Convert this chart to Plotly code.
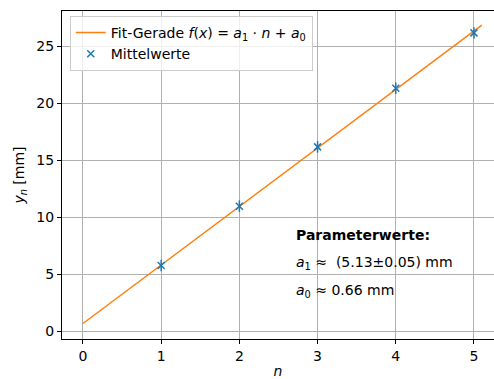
import plotly.graph_objects as go

n_vals = [1, 2, 3, 4, 5]
y_means = [5.75, 10.95, 16.15, 21.3, 26.15]
y_err = [0.5, 0.5, 0.5, 0.5, 0.5]
a1 = 5.13
a0 = 0.66
fit_x = [0, 5.1]
fit_y = [a0 + a1 * x for x in fit_x]
x_ticks = [0, 1, 2, 3, 4, 5]
y_ticks = [0, 5, 10, 15, 20, 25]

blue = "#1f77b4"
orange = "#ff7f0e"
font = "DejaVu Sans"
fs = 14

fig = go.Figure()
fig.add_trace(go.Scatter(
    x=fit_x, y=fit_y, mode="lines",
    line=dict(color=orange, width=1.5),
    name="Fit-Gerade <i>f</i>(<i>x</i>) = <i>a</i><sub>1</sub> · <i>n</i> + <i>a</i><sub>0</sub>",
))
fig.add_trace(go.Scatter(
    x=n_vals, y=y_means, mode="markers",
    marker=dict(symbol="x-thin", size=7, color=blue, line=dict(color=blue, width=1.5)),
    error_y=dict(type="data", array=y_err, color=blue, thickness=1.5, width=0),
    name="Mittelwerte",
))

axis_common = dict(
    showgrid=True, gridcolor="#b0b0b0", gridwidth=0.8,
    showline=True, linecolor="black", linewidth=1,
    ticks="outside", ticklen=4, tickcolor="black",
    zeroline=False,
    tickfont=dict(family=font, size=fs, color="black"),
)

fig.update_layout(
    width=494, height=379,
    margin=dict(l=62, r=0, t=11, b=40, autoexpand=False),
    paper_bgcolor="white", plot_bgcolor="white",
    font=dict(family=font, size=fs, color="black"),
    showlegend=True,
    legend=dict(
        x=0.018, y=0.985, xanchor="left", yanchor="top",
        bgcolor="rgba(255,255,255,0.8)", bordercolor="#cccccc", borderwidth=1,
        font=dict(family=font, size=fs),
        tracegroupgap=0, itemwidth=30,
    ),
    xaxis=dict(
        axis_common, range=[-0.268, 5.256], tickvals=x_ticks, mirror=True,
        title=dict(text="<i>n</i>", font=dict(family=font, size=fs), standoff=4),
    ),
    yaxis=dict(
        axis_common, range=[-0.7, 28.07], tickvals=y_ticks,
        title=dict(text="<i>y<sub>n</sub></i> [mm]", font=dict(family=font, size=fs), standoff=8),
    ),
)

ann_x = 2.7
fig.add_annotation(x=ann_x, y=8.4, xref="x", yref="y", xanchor="left", yanchor="middle",
                   text="<b>Parameterwerte:</b>", showarrow=False,
                   font=dict(family=font, size=fs))
fig.add_annotation(x=ann_x, y=5.95, xref="x", yref="y", xanchor="left", yanchor="middle",
                   text="<i>a</i><sub>1</sub> ≈  (5.13±0.05) mm", showarrow=False,
                   font=dict(family=font, size=fs))
fig.add_annotation(x=ann_x, y=3.55, xref="x", yref="y", xanchor="left", yanchor="middle",
                   text="<i>a</i><sub>0</sub> ≈ 0.66 mm", showarrow=False,
                   font=dict(family=font, size=fs))

fig.write_html("out.html", config={"displayModeBar": False},
               post_script="document.body.style.margin='0';document.body.style.overflow='hidden';")
